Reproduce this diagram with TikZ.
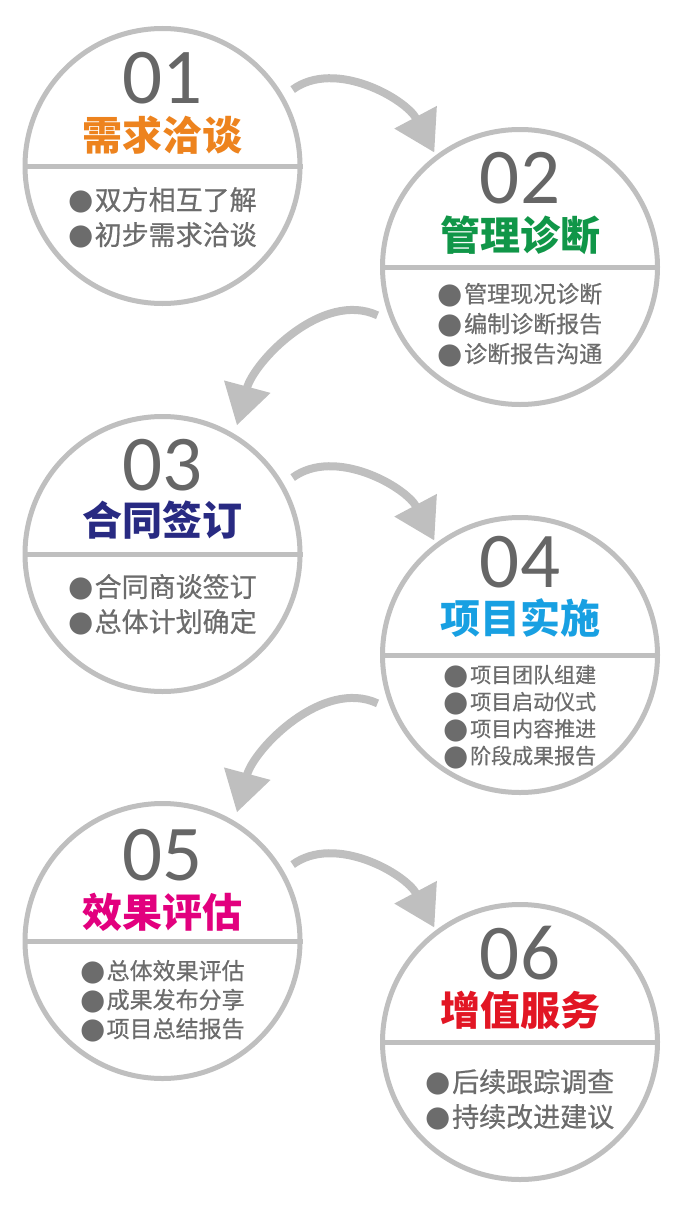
\documentclass[tikz,border=0pt]{standalone}
\usepackage{fontspec}
\setmainfont{Carlito}
\newfontfamily\cjkFont{Noto Sans CJK SC}
\newfontfamily\cjkItemFont[FakeBold=0.6]{Noto Sans CJK SC}
\newfontfamily\symFont{DejaVu Sans}
\usetikzlibrary{arrows.meta, positioning}
\definecolor{cRing}{RGB}{191, 191, 191}
\definecolor{cNum}{RGB}{102, 102, 102}
\definecolor{cItem}{RGB}{108, 108, 108}
\definecolor{cTitle1}{RGB}{237, 131, 30}
\definecolor{cTitle2}{RGB}{16, 150, 72}
\definecolor{cTitle3}{RGB}{40, 42, 130}
\definecolor{cTitle4}{RGB}{24, 160, 226}
\definecolor{cTitle5}{RGB}{226, 0, 126}
\definecolor{cTitle6}{RGB}{226, 22, 36}
\newcommand{\dotItem}{%
	\raisebox{\dimexpr 0.38em-9.8pt\relax}{\symFont\fontsize{29}{29}\selectfont ●}\hspace{1pt}}
\tikzset{
    stepCircle/.style={
        circle, draw=cRing, line width=5pt, fill=white,
        minimum size=275pt, inner sep=0pt
    },
    numText/.style={
        font=\fontsize{79}{79}\selectfont, text=cNum, inner sep=0pt
    },
    titleText/.style={
        font=\cjkFont\bfseries\fontsize{40}{40}\selectfont, inner sep=0pt
    },
    itemText/.style 2 args={
        font=\cjkItemFont\fontsize{#1}{#2}\selectfont,
        text=cItem, align=center, inner sep=0pt
    },
    ringDivider/.style={line width=5pt, draw=cRing},
    flowArrow/.style={
        -{Triangle[length=40pt, width=46pt]},
        line width=8pt, draw=cRing
    }
}

\begin{document}
\begin{tikzpicture}[x=1pt, y=1pt, on grid]

	\useasboundingbox (0,0) rectangle (700,-1207);

	% =========================================================
	% Step Circles
	% =========================================================

	\node [stepCircle] (step1) at (162.5,-166) {};
	\node [stepCircle, below right=101pt and 357.5pt of step1] (step2) {};
	\node [stepCircle, below=388pt of step1] (step3) {};
	\node [stepCircle, below=388pt of step2] (step4) {};
	\node [stepCircle, below=387pt of step3] (step5) {};
	\node [stepCircle, below=387pt of step4] (step6) {};

	\foreach \i in {1,...,6} {
			\draw [ringDivider] (step\i.west) -- (step\i.east);
		}

	% =========================================================
	% Flow Arrows
	% =========================================================

	\foreach \a/\b in {1/2, 3/4, 5/6} {
			\draw [flowArrow, shorten <=11pt, shorten >=3pt]
				(step\a.30) to [out=36, in=118] (step\b.127);
		}

	\foreach \a/\b in {2/3, 4/5} {
			\draw [flowArrow, shorten <=15pt, shorten >=9pt]
				(step\a.203) to [out=155, in=75] (step\b.59);
		}

	% =========================================================
	% Step 01
	% =========================================================

	\node [numText] (num1) at ([yshift=88pt]step1.center) {01};
	\node [titleText, text=cTitle1] (title1) at ([yshift=31pt]step1.center) {需求洽谈};
	\node [itemText={27}{35}] (list1) at ([yshift=-51.5pt]step1.center) {
		\dotItem 双方相互了解\\
		\dotItem 初步需求洽谈
	};

	% =========================================================
	% Step 02
	% =========================================================

	\node [numText] (num2) at ([yshift=89pt]step2.center) {02};
	\node [titleText, text=cTitle2] (title2) at ([yshift=32pt]step2.center) {管理诊断};
	\node [itemText={23}{30}] (list2) at ([yshift=-58pt]step2.center) {
		\dotItem 管理现况诊断\\
		\dotItem 编制诊断报告\\
		\dotItem 诊断报告沟通
	};

	% =========================================================
	% Step 03
	% =========================================================

	\node [numText] (num3) at ([yshift=89pt]step3.center) {03};
	\node [titleText, text=cTitle3] (title3) at ([yshift=34pt]step3.center) {合同签订};
	\node [itemText={27}{35}] (list3) at ([yshift=-50.5pt]step3.center) {
		\dotItem 合同商谈签订\\
		\dotItem 总体计划确定
	};

	% =========================================================
	% Step 04
	% =========================================================

	\node [numText] (num4) at ([yshift=93pt]step4.center) {04};
	\node [titleText, text=cTitle4] (title4) at ([yshift=37pt]step4.center) {项目实施};
	\node [itemText={21}{27}] (list4) at ([yshift=-62pt]step4.center) {
		\dotItem 项目团队组建\\
		\dotItem 项目启动仪式\\
		\dotItem 项目内容推进\\
		\dotItem 阶段成果报告
	};

	% =========================================================
	% Step 05
	% =========================================================

	\node [numText] (num5) at ([yshift=86pt]step5.center) {05};
	\node [titleText, text=cTitle5] (title5) at ([yshift=29pt]step5.center) {效果评估};
	\node [itemText={23}{29}] (list5) at ([yshift=-60pt]step5.center) {
		\dotItem 总体效果评估\\
		\dotItem 成果发布分享\\
		\dotItem 项目总结报告
	};

	% =========================================================
	% Step 06
	% =========================================================

	\node [numText] (num6) at ([yshift=89pt]step6.center) {06};
	\node [titleText, text=cTitle6] (title6) at ([yshift=32pt]step6.center) {增值服务};
	\node [itemText={27}{35}] (list6) at ([yshift=-57.5pt]step6.center) {
		\dotItem 后续跟踪调查\\
		\dotItem 持续改进建议
	};

\end{tikzpicture}
\end{document}
